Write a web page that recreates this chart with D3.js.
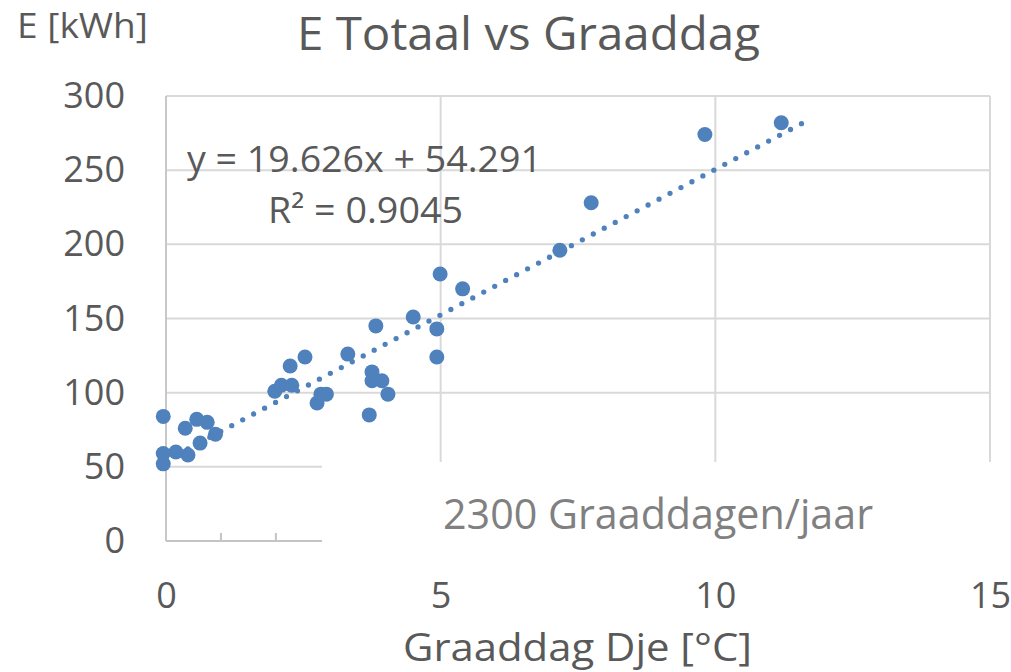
<!DOCTYPE html>
<html>
<head>
<meta charset="utf-8">
<script src="https://cdn.jsdelivr.net/npm/d3@7"></script>
<style>
  body { margin: 0; background: #fff; }
  text { font-family: "Open Sans", sans-serif; fill: #595959; }
</style>
</head>
<body>
<script>
// data ------------------------------------------------------
var graaddag = [-0.05, -0.05, -0.05, 0.18, 0.35, 0.4, 0.56, 0.62, 0.75, 0.9,
                1.98, 2.1, 2.26, 2.29, 2.53, 2.75, 2.82, 2.92, 3.31, 3.7,
                3.75, 3.75, 3.82, 3.93, 4.04, 4.5, 4.93, 4.93, 4.99, 5.4,
                7.17, 7.74, 9.81, 11.2];
var energie = [84, 59, 52, 60, 76, 58, 82, 66, 80, 72,
               101, 105, 118, 105, 124, 93, 99, 99, 126, 85,
               114, 108, 145, 108, 99, 151, 143, 124, 180, 170,
               196, 228, 274, 282];
var xTicks = [0, 5, 10, 15];
var yTicks = [0, 50, 100, 150, 200, 250, 300];
var trendCoef = [19.626, 54.291];   // slope, intercept
var trendRange = [0, 11.6];

var width = 1011, height = 672;
var blue = '#4f81bd';

var svg = d3.select('body').append('svg')
  .attr('width', width)
  .attr('height', height);

var x = d3.scaleLinear().domain([0, 15]).range([166, 990]);
var y = d3.scaleLinear().domain([0, 300]).range([541, 96]);

// gridlines
svg.append('g').selectAll('line.h')
  .data(yTicks.slice(1))
  .enter().append('line')
  .attr('x1', x(0)).attr('x2', x(15))
  .attr('y1', function(d) { return y(d); })
  .attr('y2', function(d) { return y(d); })
  .attr('stroke', '#d9d9d9').attr('stroke-width', 2);

svg.append('g').selectAll('line.v')
  .data(xTicks)
  .enter().append('line')
  .attr('x1', function(d) { return x(d); })
  .attr('x2', function(d) { return x(d); })
  .attr('y1', y(300)).attr('y2', y(0))
  .attr('stroke', function(d) { return d === 0 ? '#c8c8c8' : '#d9d9d9'; })
  .attr('stroke-width', 2);

// bottom axis line with minor ticks
svg.append('line')
  .attr('x1', x(0)).attr('x2', x(15))
  .attr('y1', y(0)).attr('y2', y(0))
  .attr('stroke', '#c4c4c4').attr('stroke-width', 2);

svg.append('g').selectAll('line')
  .data(d3.range(1, 15))
  .enter().append('line')
  .attr('x1', function(d) { return x(d); })
  .attr('x2', function(d) { return x(d); })
  .attr('y1', y(0) - 8).attr('y2', y(0))
  .attr('stroke', '#c4c4c4').attr('stroke-width', 2);

// tick labels through d3 axes
var yAxis = svg.append('g')
  .attr('transform', 'translate(' + x(0) + ',0)')
  .call(d3.axisLeft(y).tickValues(yTicks).tickSize(0).tickPadding(41));
var xAxis = svg.append('g')
  .attr('transform', 'translate(0,' + (y(0) + 41) + ')')
  .call(d3.axisBottom(x).tickValues(xTicks).tickSize(0).tickPadding(0));
[yAxis, xAxis].forEach(function(ax) {
  ax.select('.domain').remove();
  ax.selectAll('text')
    .style('font-family', '"Open Sans", sans-serif')
    .style('font-size', '36px')
    .attr('fill', '#595959');
});

// points
svg.append('g').selectAll('circle')
  .data(graaddag)
  .enter().append('circle')
  .attr('cx', function(d) { return x(d); })
  .attr('cy', function(d, i) { return y(energie[i]); })
  .attr('r', 7.5)
  .attr('fill', blue);

// dotted linear trendline
var trend = function(v) { return trendCoef[0] * v + trendCoef[1]; };
svg.append('line')
  .attr('x1', x(trendRange[0])).attr('y1', y(trend(trendRange[0])))
  .attr('x2', x(trendRange[1])).attr('y2', y(trend(trendRange[1])))
  .attr('stroke', blue)
  .attr('stroke-width', 5.3)
  .attr('stroke-linecap', 'round')
  .attr('stroke-dasharray', '0 12.4');

// white box pasted over the lower right of the chart
svg.append('rect')
  .attr('x', 322).attr('y', 462)
  .attr('width', width - 322).attr('height', 104)
  .attr('fill', '#fff');

svg.append('text')
  .attr('x', 443).attr('y', 529)
  .attr('textLength', 430).attr('lengthAdjust', 'spacingAndGlyphs')
  .style('font-size', '42px')
  .style('fill', '#808080')
  .text('2300 Graaddagen/jaar');

// titles and trendline label
svg.append('text')
  .attr('x', 297).attr('y', 50)
  .attr('textLength', 463).attr('lengthAdjust', 'spacingAndGlyphs')
  .style('font-size', '46px')
  .text('E Totaal vs Graaddag');

svg.append('text')
  .attr('x', 17).attr('y', 38)
  .attr('textLength', 131).attr('lengthAdjust', 'spacingAndGlyphs')
  .style('font-size', '34px')
  .text('E [kWh]');

svg.append('text')
  .attr('x', 403).attr('y', 661)
  .attr('textLength', 349).attr('lengthAdjust', 'spacingAndGlyphs')
  .style('font-size', '38px')
  .text('Graaddag Dje [°C]');

svg.append('text')
  .attr('x', 187).attr('y', 172)
  .attr('textLength', 355).attr('lengthAdjust', 'spacingAndGlyphs')
  .style('font-size', '36px')
  .text('y = ' + trendCoef[0] + 'x + ' + trendCoef[1]);

svg.append('text')
  .attr('x', 268).attr('y', 223)
  .attr('textLength', 195).attr('lengthAdjust', 'spacingAndGlyphs')
  .style('font-size', '36px')
  .text('R² = 0.9045');
</script>
</body>
</html>
